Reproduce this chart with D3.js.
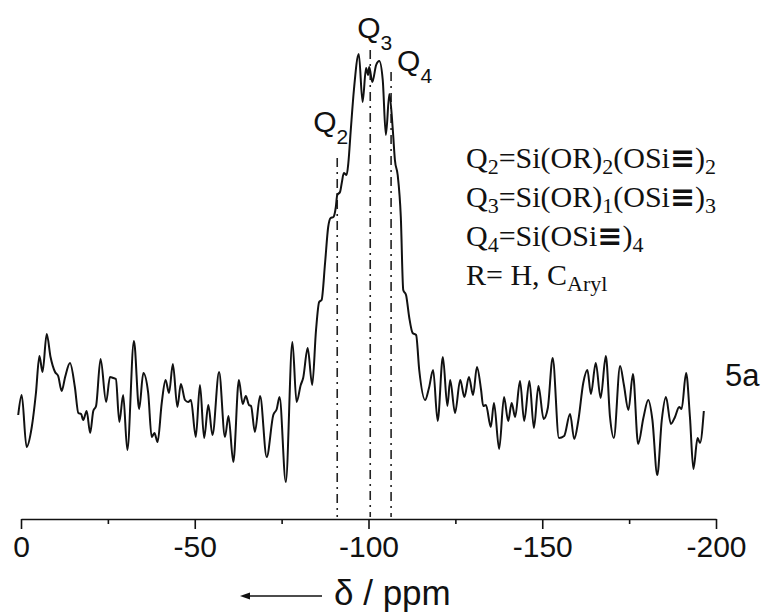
<!DOCTYPE html>
<html>
<head>
<meta charset="utf-8">
<script src="https://cdn.jsdelivr.net/npm/d3@7"></script>
<style>
  html, body { margin: 0; padding: 0; background: #fff; }
  svg { display: block; }
</style>
</head>
<body>
<svg id="chart" width="771" height="615"></svg>
<script>
// chemical shift (ppm) of each traced point
const shiftPpm = [
  0.8, -0.2, -1.6, -3.1, -4.3, -5.3, -6.2, -7.4, -8.5, -9.8,
  -10.7, -11.7, -12.7, -14.1, -15.5, -16.5, -17.3, -17.9, -18.9, -19.9,
  -20.8, -21.6, -22.9, -24.5, -25.6, -26.6, -27.3, -28.3, -29.4, -30.6,
  -32.5, -34.0, -35.2, -36.6, -37.6, -38.4, -39.3, -40.5, -41.6, -42.6,
  -43.7, -45.0, -46.0, -47.2, -48.1, -48.9, -50.3, -51.5, -52.7, -53.9,
  -55.1, -57.0, -58.7, -59.7, -61.1, -62.7, -63.8, -64.7, -65.6, -66.2,
  -67.3, -68.8, -70.7, -72.6, -73.6, -74.4, -76.2, -78.1, -79.3, -80.5,
  -81.2, -82.5, -83.8, -84.9, -85.8, -86.5, -87.5, -88.4, -89.1, -89.9,
  -90.6, -91.0, -91.8, -92.3, -92.9, -93.7, -94.2, -94.9, -95.8, -97.2,
  -98.3, -99.3, -99.9, -100.2, -101.1, -102.2, -103.1, -104.1, -105.0, -106.0,
  -107.0, -107.6, -108.4, -109.3, -110.0, -110.8, -111.7, -112.7, -113.7, -114.6,
  -116.3, -117.4, -118.6, -119.9, -121.4, -122.7, -123.5, -124.9, -126.4, -127.6,
  -128.9, -130.1, -131.2, -132.4, -133.0, -133.8, -135.2, -136.1, -137.6, -139.0,
  -140.2, -141.2, -142.2, -143.6, -144.8, -146.3, -147.6, -148.9, -150.4, -151.6,
  -153.0, -154.8, -156.3, -158.0, -159.2, -160.4, -161.8, -163.0, -164.0, -165.4,
  -166.8, -168.3, -169.5, -170.6, -172.4, -173.5, -174.8, -176.1, -177.6, -179.1,
  -180.5, -181.7, -183.1, -184.4, -185.6, -187.0, -188.2, -189.4, -190.1, -191.4,
  -192.5, -193.5, -194.7, -195.4, -196.5
];
// signal intensity (arbitrary units) of each traced point
const intensity = [
  85, 105, 53, 73, 107, 144, 128, 166, 143, 128,
  124, 109, 123, 137, 113, 87, 86, 80, 89, 67,
  89, 94, 141, 98, 123, 122, 121, 78, 105, 50,
  159, 91, 127, 107, 63, 67, 58, 97, 120, 107,
  136, 93, 116, 100, 98, 100, 63, 115, 62, 95,
  65, 128, 63, 84, 38, 120, 96, 104, 95, 94,
  68, 104, 43, 85, 91, 103, 18, 158, 98, 115,
  122, 152, 115, 170, 198, 200, 237, 273, 282, 283,
  293, 305, 308, 317, 327, 325, 337, 370, 410, 446,
  398, 432, 425, 433, 418, 435, 439, 420, 365, 406,
  370, 340, 325, 283, 210, 205, 183, 167, 165, 130,
  100, 112, 130, 79, 143, 94, 120, 87, 120, 103,
  123, 105, 133, 110, 94, 95, 73, 97, 51, 103,
  79, 97, 83, 119, 79, 119, 72, 114, 81, 92,
  142, 62, 64, 86, 61, 80, 117, 130, 106, 137,
  102, 144, 83, 62, 134, 115, 90, 126, 56, 82,
  100, 80, 25, 80, 103, 76, 83, 93, 91, 127,
  83, 31, 62, 57, 89
];
// x-axis ticks
const majorTicks = [0, -50, -100, -150, -200];
const minorTicks = [-25, -75, -125, -175];
// Q-species marker lines
const qNames = ["2", "3", "4"];
const qShift = [-91, -100.5, -106.5];
const qTop = [342, 450, 428];
// legend lines: [text, kind] pieces; kind 0 normal, 1 subscript, 2 triple bond
const legendLines = [
  [["Q", 0], ["2", 1], ["=Si(OR)", 0], ["2", 1], ["(OSi", 0], ["\u2261", 2], [")", 0], ["2", 1]],
  [["Q", 0], ["3", 1], ["=Si(OR)", 0], ["1", 1], ["(OSi", 0], ["\u2261", 2], [")", 0], ["3", 1]],
  [["Q", 0], ["4", 1], ["=Si(OSi", 0], ["\u2261", 2], [")", 0], ["4", 1]],
  [["R= H, C", 0], ["Aryl", 1]]
];
const sampleLabel = "5a";
const axisTitle = "\u03b4 / ppm";

const svg = d3.select("#chart");
const SANS = "'Liberation Sans', Arial, sans-serif";
const SERIF = "'Liberation Serif', 'Times New Roman', serif";

const x = d3.scaleLinear().domain([0, -200]).range([21, 716]);
const y = d3.scaleLinear().domain([0, 480]).range([500, 20]);
const axisY = 519;

// axis
const axis = d3.axisBottom(x).tickValues(majorTicks).tickSize(10).tickSizeOuter(0)
  .tickFormat(d => d === 0 ? "0" : "-" + Math.abs(d));
const gAxis = svg.append("g").attr("transform", `translate(0,${axisY})`).call(axis);
gAxis.select(".domain").attr("stroke", "#111").attr("stroke-width", 1.6);
gAxis.selectAll(".tick line").attr("stroke", "#111").attr("stroke-width", 1.6);
gAxis.selectAll(".tick text").attr("font-family", SANS).attr("font-size", 30)
  .attr("fill", "#111").attr("dy", "0.95em").attr("y", 9);
const minor = d3.axisBottom(x).tickValues(minorTicks).tickSize(5).tickFormat("");
const gMinor = svg.append("g").attr("transform", `translate(0,${axisY})`).call(minor);
gMinor.select(".domain").remove();
gMinor.selectAll(".tick line").attr("stroke", "#111").attr("stroke-width", 1.6);

// Q marker lines
qShift.forEach((s, i) => {
  svg.append("line")
    .attr("x1", x(s)).attr("x2", x(s))
    .attr("y1", y(qTop[i])).attr("y2", axisY - 2)
    .attr("stroke", "#222").attr("stroke-width", 1.6)
    .attr("stroke-dasharray", "9,5,2,5");
});

// spectrum
const data = shiftPpm.map((s, i) => [s, intensity[i]]);
svg.append("path").datum(data)
  .attr("d", d3.line().x(d => x(d[0])).y(d => y(d[1])).curve(d3.curveMonotoneX))
  .attr("fill", "none").attr("stroke", "#111").attr("stroke-width", 2)
  .attr("stroke-linejoin", "round");

// Q labels
const qLabelPos = [[-24, 132], [-13, 38], [6, 71]];
qNames.forEach((n, i) => {
  const t = svg.append("text")
    .attr("x", x(qShift[i]) + qLabelPos[i][0]).attr("y", qLabelPos[i][1])
    .attr("font-family", SANS).attr("font-size", 30).attr("fill", "#111");
  t.append("tspan").text("Q");
  t.append("tspan").attr("font-size", 21).attr("dy", 12).text(n);
});

// legend
const legBase = [168, 207, 246, 285];
legendLines.forEach((parts, i) => {
  const t = svg.append("text").attr("x", 466).attr("y", legBase[i])
    .attr("font-family", SERIF).attr("font-size", 30).attr("fill", "#111");
  let shift = 0;
  parts.forEach(([txt, kind]) => {
    const sp = t.append("tspan").text(txt);
    const target = kind === 1 ? 6 : 0;
    sp.attr("dy", target - shift);
    shift = target;
    if (kind === 1) sp.attr("font-size", 22);
    if (kind === 2) sp.attr("font-family", "'DejaVu Sans', sans-serif").attr("font-size", 30)
      .attr("font-weight", "bold");
  });
});

// sample label
svg.append("text").attr("x", 725).attr("y", 386)
  .attr("font-family", SANS).attr("font-size", 31).attr("fill", "#111")
  .text(sampleLabel);

// axis title with arrow
svg.append("text").attr("x", 334).attr("y", 605)
  .attr("font-family", SANS).attr("font-size", 35).attr("fill", "#111")
  .text(axisTitle);
svg.append("line").attr("x1", 246).attr("x2", 322).attr("y1", 596).attr("y2", 596)
  .attr("stroke", "#111").attr("stroke-width", 1.4);
svg.append("path").attr("d", "M240,596 L250,592.5 L250,599.5 Z").attr("fill", "#111");
</script>
</body>
</html>
